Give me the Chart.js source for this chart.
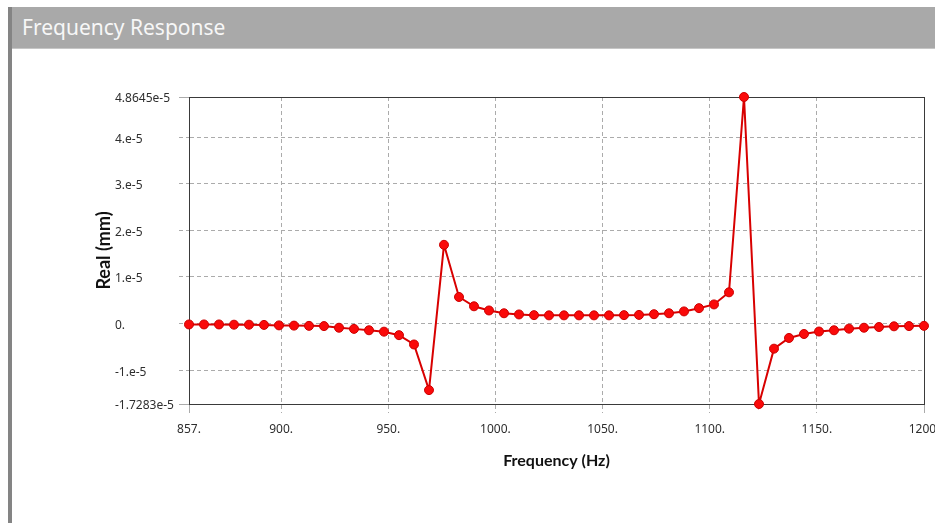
<!DOCTYPE html>
<html>
<head>
<meta charset="utf-8">
<script src="https://cdn.jsdelivr.net/npm/chart.js@4/dist/chart.umd.min.js"></script>
<style>
  html, body { margin: 0; padding: 0; background: #ffffff; width: 935px; height: 523px; overflow: hidden; }
  #wrap { position: relative; width: 935px; height: 523px; }
  #chart { position: absolute; left: 0; top: 0; }
  #frame { position: absolute; left: 8px; top: 7px; width: 4px; height: 516px; background: #848484; }
  #bar { position: absolute; left: 12px; top: 7px; width: 923px; height: 41px; background: #a9a9a9; border-bottom: 1px solid #c6c6c6; }
  #bar span { position: absolute; left: 10px; top: 10px; font: 21px/21px "Noto Sans", sans-serif; color: #f7f7f7; white-space: nowrap; }
</style>
</head>
<body>
<div id="wrap">
  <canvas id="chart" width="935" height="523"></canvas>
  <div id="frame"></div>
  <div id="bar"><span>Frequency Response</span></div>
</div>
<script>
// Sweep frequencies (Hz)
const freqHz = [857, 864, 871, 878, 885, 892, 899, 906, 913, 920,
                927, 934, 941, 948, 955, 962, 969, 976, 983, 990,
                997, 1004, 1011, 1018, 1025, 1032, 1039, 1046, 1053, 1060,
                1067, 1074, 1081, 1088, 1095, 1102, 1109, 1116, 1123, 1130,
                1137, 1144, 1151, 1158, 1165, 1172, 1179, 1186, 1193, 1200];

// Real part of the response (mm)
const realMm = [-2e-7, -2e-7, -2e-7, -2.5e-7, -2.5e-7, -3e-7, -4e-7, -4.5e-7, -5e-7, -5.5e-7,
                -9e-7, -1.15e-6, -1.45e-6, -1.75e-6, -2.5e-6, -4.5e-6, -1.43e-5, 1.69e-5, 5.7e-6, 3.7e-6,
                2.8e-6, 2.2e-6, 1.95e-6, 1.8e-6, 1.75e-6, 1.75e-6, 1.75e-6, 1.75e-6, 1.75e-6, 1.8e-6,
                1.85e-6, 2.0e-6, 2.2e-6, 2.6e-6, 3.3e-6, 4.1e-6, 6.7e-6, 4.8645e-5, -1.7283e-5, -5.4e-6,
                -3.1e-6, -2.25e-6, -1.72e-6, -1.45e-6, -1.1e-6, -9e-7, -7.5e-7, -6e-7, -5.5e-7, -5e-7];

// Axis ticks and their printed labels
const xTickValues = [857, 900, 950, 1000, 1050, 1100, 1150, 1200];
const xTickLabels = ['857.', '900.', '950.', '1000.', '1050.', '1100.', '1150.', '1200.'];
const yTickValues = [-1.7283e-5, -1e-5, 0, 1e-5, 2e-5, 3e-5, 4e-5, 4.8645e-5];
const yTickLabels = ['-1.7283e-5', '-1.e-5', '0.', '1.e-5', '2.e-5', '3.e-5', '4.e-5', '4.8645e-5'];

const xMin = xTickValues[0], xMax = xTickValues[xTickValues.length - 1];
const yMin = yTickValues[0], yMax = yTickValues[yTickValues.length - 1];

const points = freqHz.map((f, i) => ({ x: f, y: realMm[i] }));

const frameColor = '#3a3a3a';
const gridColor = '#ababab';
const tickFont = { family: 'Noto Sans', size: 12 };
const titleFont = { family: 'Lato', size: 16, weight: 'bold' };
const dash = [4, 3];

function isEdge(ctx, n) { return ctx.index === 0 || ctx.index === n - 1; }

new Chart(document.getElementById('chart'), {
  type: 'line',
  data: {
    datasets: [{
      data: points,
      borderColor: '#d80000',
      borderWidth: 2,
      tension: 0,
      pointStyle: 'circle',
      pointRadius: 4.5,
      pointBackgroundColor: '#fa0a0a',
      pointBorderColor: '#cc0000',
      pointBorderWidth: 1,
      clip: false
    }]
  },
  options: {
    responsive: false,
    animation: false,
    devicePixelRatio: 1,
    layout: { padding: { top: 97, right: 11, bottom: 0, left: 0 } },
    plugins: { legend: { display: false }, tooltip: { enabled: false } },
    scales: {
      x: {
        type: 'linear',
        position: 'bottom',
        min: xMin,
        max: xMax,
        afterBuildTicks: s => { s.ticks = xTickValues.map(v => ({ value: v })); },
        afterFit: s => { s.height = 119; s.paddingLeft = 0; s.paddingRight = 0; },
        ticks: {
          autoSkip: false,
          maxRotation: 0,
          padding: 9,
          color: '#2e2e2e',
          font: tickFont,
          callback: (v, i) => xTickLabels[i]
        },
        grid: {
          color: ctx => isEdge(ctx, xTickValues.length) ? 'rgba(0,0,0,0)' : gridColor,
          tickColor: gridColor,
          tickLength: 9,
          tickBorderDash: ctx => isEdge(ctx, xTickValues.length) ? [] : dash
        },
        border: { display: true, color: frameColor, width: 1, dash: dash },
        title: {
          display: true,
          text: 'Frequency (Hz)',
          color: '#111111',
          font: titleFont,
          padding: { top: 0, bottom: 53 }
        }
      },
      y: {
        type: 'linear',
        position: 'left',
        weight: 0,
        min: yMin,
        max: yMax,
        afterBuildTicks: s => { s.ticks = yTickValues.map(v => ({ value: v })); },
        afterFit: s => { s.width = 74; s.paddingTop = 0; s.paddingBottom = 0; },
        ticks: {
          autoSkip: false,
          crossAlign: 'far',
          labelOffset: 2,
          color: '#2e2e2e',
          font: tickFont,
          callback: (v, i) => yTickLabels[i]
        },
        grid: {
          color: ctx => isEdge(ctx, yTickValues.length) ? 'rgba(0,0,0,0)' : gridColor,
          tickColor: gridColor,
          tickLength: 10,
          tickBorderDash: ctx => isEdge(ctx, yTickValues.length) ? [] : dash
        },
        border: { display: true, color: frameColor, width: 1, dash: dash }
      },
      yTitle: {
        type: 'linear',
        position: 'left',
        weight: 1,
        min: yMin,
        max: yMax,
        afterFit: s => { s.width = 115; },
        ticks: { display: false },
        grid: { display: false, drawTicks: false },
        border: { display: false },
        title: {
          display: true,
          text: 'Real (mm)',
          color: '#111111',
          font: { family: 'Lato', size: 18, weight: 'bold' },
          padding: { top: 93, bottom: 0 }
        }
      },
      xTop: {
        type: 'linear',
        position: 'top',
        min: xMin,
        max: xMax,
        afterFit: s => { s.height = 0; },
        ticks: { display: false },
        grid: { display: false, drawTicks: false },
        border: { display: true, color: frameColor, width: 1 }
      },
      yRight: {
        type: 'linear',
        position: 'right',
        min: yMin,
        max: yMax,
        afterFit: s => { s.width = 0; },
        ticks: { display: false },
        grid: { display: false, drawTicks: false },
        border: { display: true, color: frameColor, width: 1 }
      }
    }
  }
});
</script>
</body>
</html>
